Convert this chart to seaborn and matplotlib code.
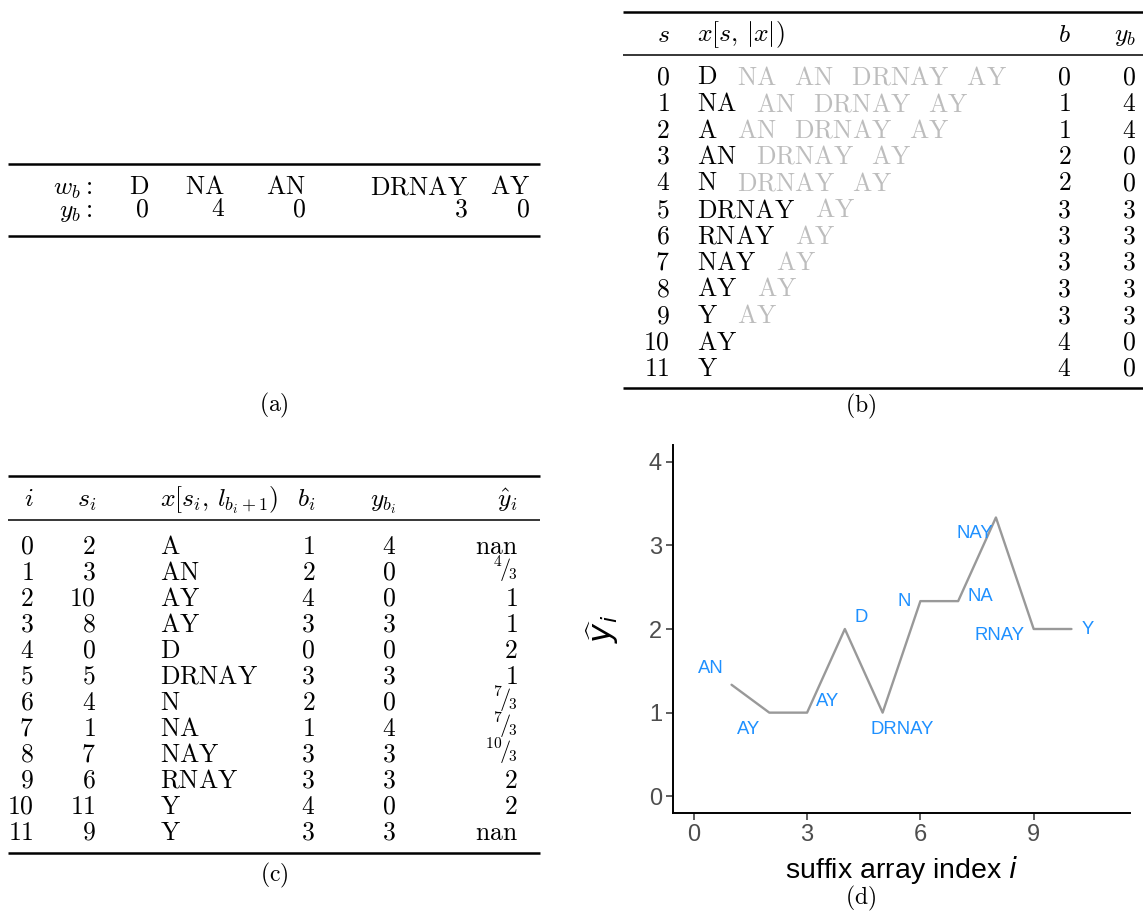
import numpy as np
import pandas as pd
import matplotlib
matplotlib.use("Agg")
import matplotlib.pyplot as plt
import seaborn as sns

sns.set_theme(style="white")
plt.rcParams["font.family"] = ["Liberation Sans", "DejaVu Sans"]
plt.rcParams["mathtext.fontset"] = "cm"

# ---- (a) segmentation of x into words w_b with labels y_b
words = ["D", "NA", "AN", "DRNAY", "AY"]
word_y = [0, 4, 0, 3, 0]

# ---- (b) all suffixes x[s, |x|): own word (black), remaining words (grey)
sfx_start = list(range(12))
sfx_head = ["D", "NA", "A", "AN", "N", "DRNAY", "RNAY", "NAY", "AY", "Y", "AY", "Y"]
sfx_tail = ["NA AN DRNAY AY", "AN DRNAY AY", "AN DRNAY AY", "DRNAY AY",
            "DRNAY AY", "AY", "AY", "AY", "AY", "AY", "", ""]
sfx_block = [0, 1, 1, 2, 2, 3, 3, 3, 3, 3, 4, 4]
sfx_yb = [0, 4, 4, 0, 0, 3, 3, 3, 3, 3, 0, 0]

# ---- (c) suffix array with block-truncated prefixes and smoothed estimate
sa_index = list(range(12))
sa_start = [2, 3, 10, 8, 0, 5, 4, 1, 7, 6, 11, 9]
sa_prefix = ["A", "AN", "AY", "AY", "D", "DRNAY", "N", "NA", "NAY", "RNAY", "Y", "Y"]
sa_block = [1, 2, 4, 3, 0, 3, 2, 1, 3, 3, 4, 3]
sa_yb = [4, 0, 0, 3, 0, 3, 0, 4, 3, 3, 0, 3]
yhat_num = [np.nan, 4, 1, 1, 2, 1, 7, 7, 10, 2, 2, np.nan]
yhat_den = [1, 3, 1, 1, 1, 1, 3, 3, 3, 1, 1, 1]

# ---- layout (pixels of the 1143 x 911 canvas)
W, H = 1143, 911
FS = 18.5
GREY = "#bdbdbd"
THICK, THIN = 1.8, 1.1
BASE = 8.5  # baseline shift from row centre
FRAC_LIFT = 3  # keeps the slanted fraction inside its row

fig = plt.figure(figsize=(W / 100, H / 100), dpi=100)
canvas = fig.add_axes([0, 0, 1, 1], zorder=0)
canvas.set_xlim(0, W)
canvas.set_ylim(H, 0)
canvas.axis("off")


def rm(s):
    return r"$\mathrm{" + s + "}$"


def words_rm(s):
    return "$" + r"\;\;\;".join(r"\mathrm{" + w + "}" for w in s.split()) + "$"


def frac(n, d):
    if np.isnan(n):
        return rm("nan")
    if d == 1:
        return "$%d$" % n
    return r"${}^{%d}\!/\!{}_{%d}$" % (n, d)


def rule(x0, x1, y, lw):
    canvas.plot([x0, x1], [y, y], color="black", lw=lw, solid_capstyle="butt")


def put(x, y, s, ha="right", size=FS, **kw):
    return canvas.text(x, y + BASE, s, ha=ha, va="baseline", fontsize=size, color="black", **kw)


# table (a)
ta_rows = [186, 208]
ta_label_right = 92
ta_cols = [149, 225, 306, 468, 530]
rule(8, 540, 164, THICK)
rule(8, 540, 236, THICK)
put(ta_label_right, ta_rows[0], r"$w_b\mathrm{:}$")
put(ta_label_right, ta_rows[1], r"$y_b\mathrm{:}$")
for xc, w, yv in zip(ta_cols, words, word_y):
    put(xc, ta_rows[0], rm(w))
    put(xc, ta_rows[1], "$%d$" % yv)
put(274, 403, rm("(a)"), ha="center", size=17)

# table (b)
tb_head, tb_row0, tb_step = 33, 76, 26.5
tb_s, tb_x, tb_b, tb_y = 670, 697, 1071, 1136
rule(623, W, 12, THICK)
rule(623, W, 55, THIN)
rule(623, W, 388, THICK)
put(tb_s, tb_head, "$s$")
put(tb_x, tb_head, r"$x[s,\, |x|)$", ha="left")
put(tb_b, tb_head, "$b$")
put(tb_y, tb_head, "$y_b$")
for k, (s, hd, tl, b, yb) in enumerate(zip(sfx_start, sfx_head, sfx_tail, sfx_block, sfx_yb)):
    ry = tb_row0 + k * tb_step
    put(tb_s, ry, "$%d$" % s)
    t = put(tb_x, ry, rm(hd), ha="left")
    if tl:
        canvas.annotate(words_rm(tl), xy=(1, ry + BASE), xycoords=(t, "data"),
                        xytext=(14, 0), textcoords="offset points",
                        ha="left", va="baseline", fontsize=FS, color=GREY)
    put(tb_b, ry, "$%d$" % b)
    put(tb_y, ry, "$%d$" % yb)
put(861, 404, rm("(b)"), ha="center", size=17)

# table (c)
tc_head, tc_row0, tc_step = 498, 545, 26
tc_i, tc_s, tc_x, tc_b, tc_y, tc_h = 34, 96, 160, 315, 396, 518
rule(8, 540, 476, THICK)
rule(8, 540, 520, THIN)
rule(8, 540, 853, THICK)
put(tc_i, tc_head, "$i$")
put(tc_s, tc_head, "$s_i$")
put(tc_x, tc_head, r"$x[s_i,\, l_{b_i+1})$", ha="left")
put(tc_b, tc_head, "$b_i$")
put(tc_y, tc_head, "$y_{b_i}$")
put(tc_h, tc_head, r"$\hat{y}_i$")
for k in range(len(sa_index)):
    ry = tc_row0 + k * tc_step
    put(tc_i, ry, "$%d$" % sa_index[k])
    put(tc_s, ry, "$%d$" % sa_start[k])
    put(tc_x, ry, rm(sa_prefix[k]), ha="left")
    put(tc_b, ry, "$%d$" % sa_block[k])
    put(tc_y, ry, "$%d$" % sa_yb[k])
    lift = FRAC_LIFT if yhat_den[k] != 1 else 0
    put(tc_h, ry - lift, frac(yhat_num[k], yhat_den[k]), size=FS - 2.5 if lift else FS)
put(274, 873, rm("(c)"), ha="center", size=17)

# ---- (d) smoothed estimate along the suffix array
df = pd.DataFrame({
    "i": sa_index,
    "yhat": np.array(yhat_num, dtype=float) / np.array(yhat_den, dtype=float),
    "label": sa_prefix,
})
pts = df.dropna()

ax = fig.add_axes([673 / W, 1 - 813 / H, (1130 - 673) / W, (813 - 445) / H], zorder=1)
sns.lineplot(data=pts, x="i", y="yhat", color="#999999", lw=1.7, ax=ax)

# label placement (offsets from each point, data units)
label_offset = {1: (-0.56, 0.19), 2: (-0.54, -0.20), 3: (0.55, 0.13), 4: (0.42, 0.14),
                5: (0.53, -0.20), 6: (-0.43, -0.01), 7: (0.59, 0.06), 8: (-0.55, -0.19),
                9: (-0.91, -0.08), 10: (0.42, 0.0)}
for _, r in pts.iterrows():
    dx, dy = label_offset[int(r["i"])]
    ax.text(r["i"] + dx, r["yhat"] + dy, r["label"], ha="center", va="center",
            fontsize=13.3, color="#1E90FF")

ax.set_xlim(-0.55, 11.55)
ax.set_ylim(-0.2, 4.2)
ax.set_xticks([0, 3, 6, 9])
ax.set_yticks([0, 1, 2, 3, 4])
sns.despine(ax=ax)
for sp in ("left", "bottom"):
    ax.spines[sp].set_color("black")
    ax.spines[sp].set_linewidth(1.4)
ax.tick_params(axis="both", length=5, width=1.1, color="#333333",
               labelcolor="#4D4D4D", labelsize=17, pad=3, bottom=True, left=True)
ax.set_xlabel("suffix array index $i$", fontsize=20.5, color="black",
              math_fontfamily="dejavusans", labelpad=6)
ax.set_ylabel(r"$\widehat{y}_i$", fontsize=23, color="black",
              math_fontfamily="dejavusans", labelpad=20)
ax.grid(False)
put(861, 896, rm("(d)"), ha="center", size=17)

fig.savefig("out.png", dpi=100)
